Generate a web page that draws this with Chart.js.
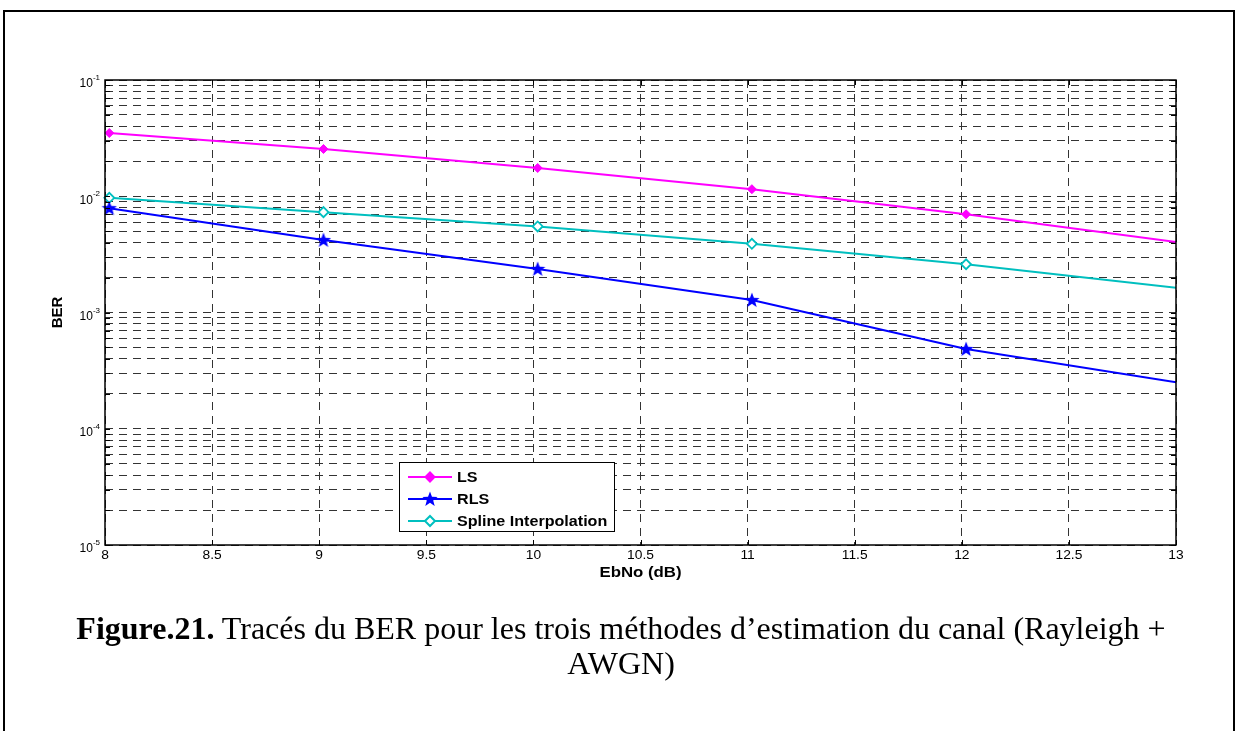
<!DOCTYPE html>
<html>
<head>
<meta charset="utf-8">
<script src="https://cdn.jsdelivr.net/npm/chart.js@4.4.0/dist/chart.umd.min.js"></script>
<style>
  body { margin: 0; background: #fff; }
  #frame { position: absolute; left: 3px; top: 10px; width: 1228px; height: 740px; border: 2px solid #000; border-bottom: none; }
  #plot { position: absolute; left: 0; top: 0; }
  #caption { position: absolute; left: 0; top: 611px; width: 1242px; text-align: center;
    font-family: 'Liberation Serif', 'Times New Roman', serif; font-size: 32px; line-height: 35px; color: #000; }
</style>
</head>
<body>
<div id="frame"></div>
<canvas id="plot" width="1237" height="731"></canvas>
<div id="caption"><b>Figure.21.</b> Tracés du BER pour les trois méthodes d’estimation du canal (Rayleigh +<br>AWGN)</div>
<script>
'use strict';
// Eb/No points (dB) and BER of each channel estimator
let ebno = [8.02, 9.02, 10.02, 11.02, 12.02, 13.02]
let berLS = [0.035, 0.0255, 0.0175, 0.0115, 0.0070, 0.0040]
let berRLS = [0.0079, 0.0042, 0.00237, 0.00128, 0.000485, 0.000248]
let berSpline = [0.0097, 0.0073, 0.0055, 0.0039, 0.0026, 0.00162]
let seriesNames = ['LS', 'RLS', 'Spline Interpolation']

let xTicks = [8, 8.5, 9, 9.5, 10, 10.5, 11, 11.5, 12, 12.5, 13]
let yDecades = [-5, -4, -3, -2, -1]
let yTicks = []
for (let d = -5; d < -1; d++) {
  for (let m = 1; m < 10; m++) yTicks.push(m * Math.pow(10, d))
}
yTicks.push(0.1)

const SANS = '"Liberation Sans", Arial, sans-serif'

function toPoints(values) {
  return values.map((v, i) => ({x: ebno[i], y: v}))
}

// filled five-point star used for the RLS markers
function makeStar(color, size) {
  let c = document.createElement('canvas')
  c.width = size
  c.height = size
  let g = c.getContext('2d')
  let r1 = size / 2, r2 = r1 * 0.42
  g.beginPath()
  for (let i = 0; i < 10; i++) {
    let r = i % 2 ? r2 : r1
    let a = -Math.PI / 2 + i * Math.PI / 5
    g.lineTo(r1 + r * Math.cos(a), r1 + 0.5 + r * Math.sin(a))
  }
  g.closePath()
  g.fillStyle = color
  g.fill()
  return c
}
let star = makeStar('#0000ff', 16)

function hideLast(ctx) {
  return ctx.raw && ctx.raw.x > 13 ? 0 : undefined
}

let markerSize = [4.5, 8, 5]
let datasets = [
  {label: seriesNames[0], data: toPoints(berLS), borderColor: '#ff00ff', backgroundColor: '#ff00ff',
   pointStyle: 'rectRot', pointBorderWidth: 1},
  {label: seriesNames[1], data: toPoints(berRLS), borderColor: '#0000ff', backgroundColor: '#0000ff',
   pointStyle: star, pointBorderWidth: 0},
  {label: seriesNames[2], data: toPoints(berSpline), borderColor: '#00bfbf', backgroundColor: '#ffffff',
   pointStyle: 'rectRot', pointBorderWidth: 1.8}
]
datasets.forEach((d, i) => {
  d.pointRadius = c => hideLast(c) ?? markerSize[i]
  d.borderWidth = 2
  d.showLine = true
  d.tension = 0
  d.clip = {left: 8, top: 8, right: 0, bottom: 8}
})

let gridOpts = {color: '#333333', lineWidth: 1, drawTicks: false}
let borderOpts = {display: false, dash: [8, 6]}

// text stretched a little wider than the font, like the exported figure
function wideText(ctx, text, x, y, font, align, sx) {
  ctx.save()
  ctx.font = font
  ctx.textAlign = align
  ctx.textBaseline = 'middle'
  ctx.translate(x, y)
  ctx.scale(sx, 1)
  ctx.fillText(text, 0, 0)
  ctx.restore()
}

// axes box, inner tick marks, labels, titles and legend
const framePlugin = {
  id: 'frame',
  afterDraw(chart) {
    let ctx = chart.ctx
    let a = chart.chartArea
    let xs = chart.scales.x, ys = chart.scales.y
    ctx.save()
    ctx.strokeStyle = '#000'
    ctx.lineWidth = 1
    ctx.beginPath()
    xTicks.forEach(t => {
      let px = Math.round(xs.getPixelForValue(t)) + 0.5
      ctx.moveTo(px, a.bottom); ctx.lineTo(px, a.bottom - 5)
      ctx.moveTo(px, a.top); ctx.lineTo(px, a.top + 5)
    })
    yTicks.forEach(t => {
      let py = Math.round(ys.getPixelForValue(t)) + 0.5
      ctx.moveTo(a.left, py); ctx.lineTo(a.left + 5, py)
      ctx.moveTo(a.right, py); ctx.lineTo(a.right - 5, py)
    })
    ctx.stroke()
    ctx.lineWidth = 1.5
    ctx.strokeRect(a.left, a.top, a.right - a.left, a.bottom - a.top)

    ctx.fillStyle = '#000'
    yDecades.forEach(d => {
      let py = ys.getPixelForValue(Math.pow(10, d))
      ctx.font = '8px ' + SANS
      let sup = String(d)
      let sw = ctx.measureText(sup).width
      wideText(ctx, sup, a.left - 5 - sw, py - 2, '8px ' + SANS, 'left', 1)
      wideText(ctx, '10', a.left - 5 - sw, py + 4, '12px ' + SANS, 'right', 1)
    })
    xTicks.forEach(t => {
      wideText(ctx, String(t), xs.getPixelForValue(t), a.bottom + 11, '12px ' + SANS, 'center', 1.15)
    })

    wideText(ctx, 'EbNo (dB)', (a.left + a.right) / 2, a.bottom + 28, 'bold 14px ' + SANS, 'center', 1.2)
    ctx.save()
    ctx.translate(58, (a.top + a.bottom) / 2)
    ctx.rotate(-Math.PI / 2)
    wideText(ctx, 'BER', 0, 0, 'bold 15px ' + SANS, 'center', 1)
    ctx.restore()

    // legend box
    let lx = 399, ly = 462, lw = 215, lh = 69
    ctx.fillStyle = '#fff'
    ctx.fillRect(lx, ly, lw, lh)
    ctx.lineWidth = 1
    ctx.strokeStyle = '#000'
    ctx.strokeRect(lx + 0.5, ly + 0.5, lw, lh)
    let rows = [477, 499, 521]
    chart.data.datasets.forEach((ds, i) => {
      let y = rows[i]
      ctx.strokeStyle = ds.borderColor
      ctx.lineWidth = ds.borderWidth
      ctx.beginPath()
      ctx.moveTo(408, y); ctx.lineTo(452, y)
      ctx.stroke()
      ctx.fillStyle = ds.backgroundColor
      Chart.helpers.drawPoint(ctx, {
        pointStyle: ds.pointStyle,
        radius: markerSize[i],
        borderWidth: ds.pointBorderWidth,
        rotation: 0
      }, 430, y)
      ctx.fillStyle = '#000'
      wideText(ctx, ds.label, 457, y + 1, 'bold 14px ' + SANS, 'left', 1.15)
    })
    ctx.restore()
  }
}

new Chart(document.getElementById('plot'), {
  type: 'scatter',
  data: {datasets: datasets},
  options: {
    responsive: false,
    animation: false,
    layout: {padding: {left: 0, right: 61, top: 80, bottom: 146}},
    plugins: {legend: {display: false}, tooltip: {enabled: false}},
    scales: {
      x: {
        type: 'linear', min: 8, max: 13,
        afterBuildTicks: s => { s.ticks = xTicks.map(v => ({value: v})) },
        afterFit: s => { s.height = 40 },
        grid: gridOpts, border: borderOpts,
        ticks: {display: false}
      },
      y: {
        type: 'logarithmic', min: 1e-5, max: 1e-1,
        afterBuildTicks: s => { s.ticks = yTicks.map(v => ({value: v})) },
        afterFit: s => { s.width = 105 },
        grid: gridOpts, border: borderOpts,
        ticks: {display: false}
      }
    }
  },
  plugins: [framePlugin]
})
</script>
</body>
</html>
